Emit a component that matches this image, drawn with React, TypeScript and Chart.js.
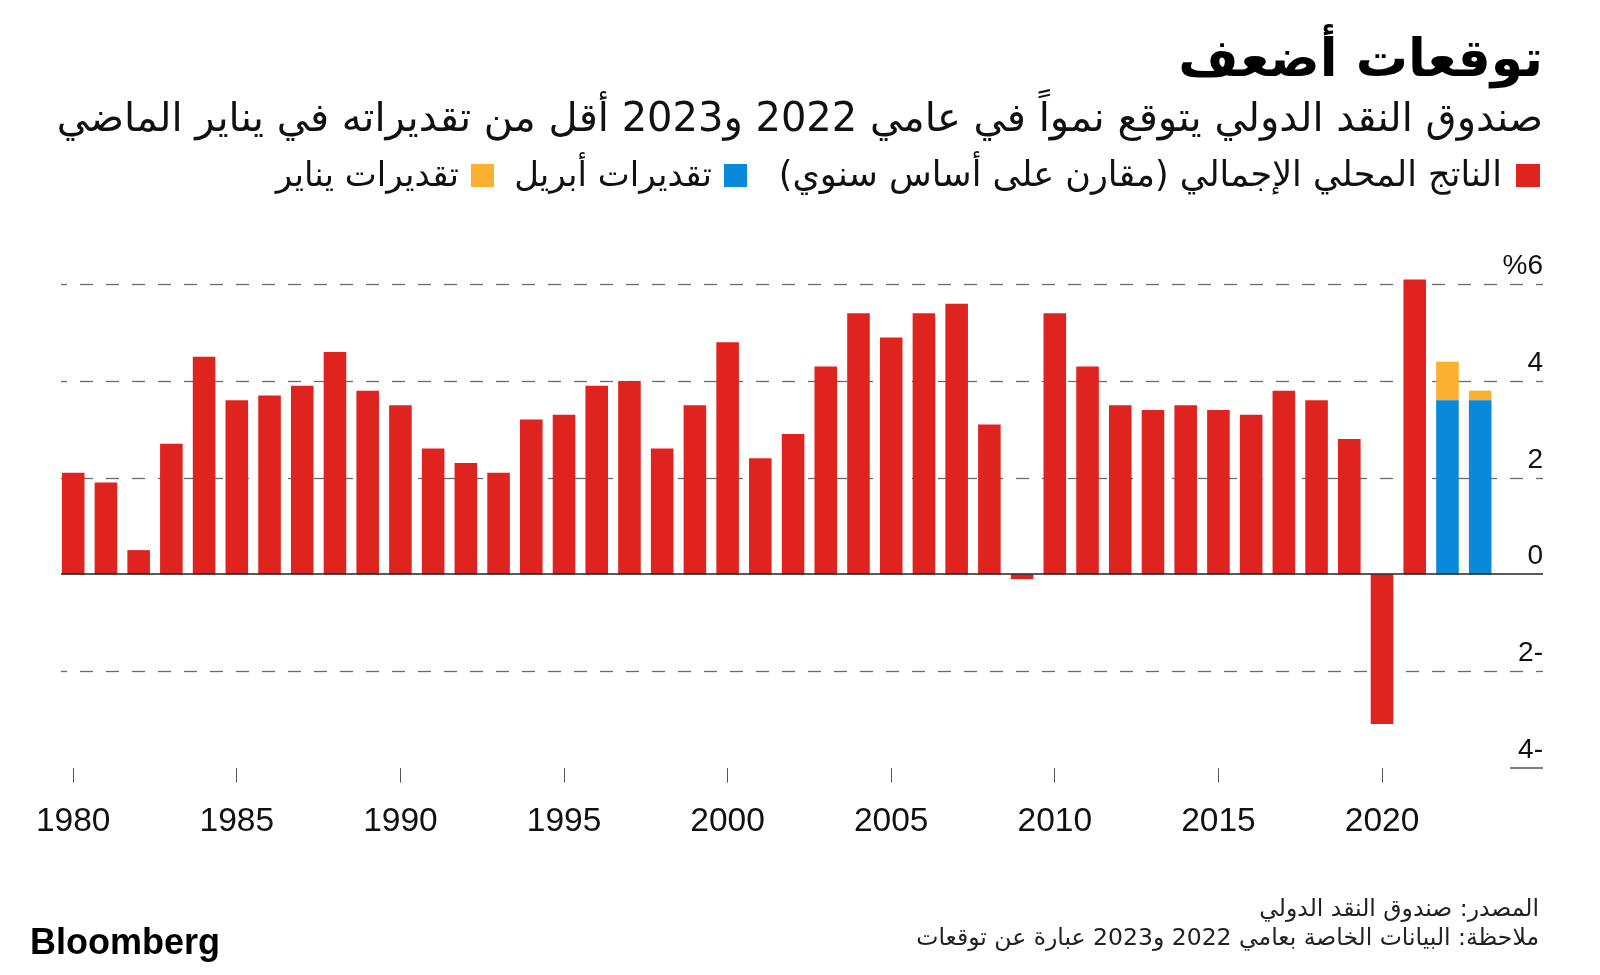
import React, { useEffect, useRef } from "react";
import { Chart, registerables } from "chart.js";

Chart.register(...registerables);

// ---------- data ----------
const YEARS = [
  1980, 1981, 1982, 1983, 1984, 1985, 1986, 1987, 1988, 1989,
  1990, 1991, 1992, 1993, 1994, 1995, 1996, 1997, 1998, 1999,
  2000, 2001, 2002, 2003, 2004, 2005, 2006, 2007, 2008, 2009,
  2010, 2011, 2012, 2013, 2014, 2015, 2016, 2017, 2018, 2019,
  2020, 2021,
];
const GDP = [
  2.1, 1.9, 0.5, 2.7, 4.5, 3.6, 3.7, 3.9, 4.6, 3.8,
  3.5, 2.6, 2.3, 2.1, 3.2, 3.3, 3.9, 4.0, 2.6, 3.5,
  4.8, 2.4, 2.9, 4.3, 5.4, 4.9, 5.4, 5.6, 3.1, -0.1,
  5.4, 4.3, 3.5, 3.4, 3.5, 3.4, 3.3, 3.8, 3.6, 2.8,
  -3.1, 6.1,
];
const FORECAST_YEARS = [2022, 2023];
const APRIL = [3.6, 3.6];
const JANUARY = [4.4, 3.8];

const X_TICKS = [1980, 1985, 1990, 1995, 2000, 2005, 2010, 2015, 2020];
const Y_TICKS = [6, 4, 2, 0, -2, -4];
const Y_TICK_LABELS = ["%6", "4", "2", "0", "2-", "4-"];

const TITLE = "توقعات أضعف";
const SUBTITLE =
  "صندوق النقد الدولي يتوقع نمواً في عامي 2022 و2023 أقل من تقديراته في يناير الماضي";
const LEGEND_GDP = "الناتج المحلي الإجمالي (مقارن على أساس سنوي)";
const LEGEND_APRIL = "تقديرات أبريل";
const LEGEND_JANUARY = "تقديرات يناير";
const SOURCE = "المصدر: صندوق النقد الدولي";
const NOTE = "ملاحظة: البيانات الخاصة بعامي 2022 و2023 عبارة عن توقعات";

const RED = "#DF231E";
const BLUE = "#0A89DA";
const YELLOW = "#FBB12F";

const ARABIC_FONT = '"DejaVu Sans", sans-serif';
const NUM_FONT = '"Liberation Sans", Arial, sans-serif';

const Y_MIN = -4;
const Y_MAX = 6;

const bbgPlugin = {
  id: "bbgGrid",
  beforeDatasetsDraw(chart: any) {
    const { ctx, chartArea } = chart;
    const ys = chart.scales.y;
    ctx.save();
    ctx.strokeStyle = "#6a6a6a";
    ctx.lineWidth = 1.3;
    ctx.setLineDash([13, 13]);
    ctx.lineDashOffset = 6;
    for (const v of Y_TICKS) {
      if (v === 0 || v === Y_MIN) continue;
      const py = Math.round(ys.getPixelForValue(v)) + 0.5;
      ctx.beginPath();
      ctx.moveTo(chartArea.right, py);
      ctx.lineTo(chartArea.left, py);
      ctx.stroke();
    }
    ctx.restore();
  },
  afterDatasetsDraw(chart: any) {
    const { ctx, chartArea } = chart;
    const ys = chart.scales.y;
    ctx.save();
    // zero line
    const z = Math.round(ys.getPixelForValue(0));
    ctx.strokeStyle = "#222";
    ctx.lineWidth = 1.6;
    ctx.beginPath();
    ctx.moveTo(chartArea.left, z);
    ctx.lineTo(chartArea.right, z);
    ctx.stroke();
    // short line under bottom label
    const b = Math.round(ys.getPixelForValue(Y_MIN));
    ctx.strokeStyle = "#555";
    ctx.lineWidth = 1.5;
    ctx.beginPath();
    ctx.moveTo(chartArea.right - 33, b);
    ctx.lineTo(chartArea.right, b);
    ctx.stroke();
    // y tick labels
    ctx.fillStyle = "#111";
    ctx.font = `28px ${NUM_FONT}`;
    ctx.textAlign = "right";
    ctx.textBaseline = "alphabetic";
    Y_TICKS.forEach((v, i) => {
      const py = ys.getPixelForValue(v);
      ctx.fillText(Y_TICK_LABELS[i], chartArea.right, py - 10);
    });
    ctx.restore();
  },
};

function GdpChart() {
  const ref = useRef<HTMLCanvasElement | null>(null);
  useEffect(() => {
    if (!ref.current) return;
    const chart = new Chart(ref.current, {
      type: "bar",
      data: {
        datasets: [
          {
            label: LEGEND_GDP,
            data: YEARS.map((yr, i) => ({ x: yr, y: GDP[i] })),
            backgroundColor: RED,
            clip: false,
          } as any,
          {
            label: LEGEND_APRIL,
            data: FORECAST_YEARS.map((yr, i) => ({ x: yr, y: APRIL[i] })),
            backgroundColor: BLUE,
            clip: false,
          },
          {
            label: LEGEND_JANUARY,
            data: FORECAST_YEARS.map((yr, i) => ({ x: yr, y: JANUARY[i] - APRIL[i] })),
            backgroundColor: YELLOW,
            clip: false,
          },
        ],
      },
      options: {
        responsive: false,
        animation: false,
        events: [],
        layout: { padding: { left: 61, right: 57, top: 284.3, bottom: 127.4 } },
        datasets: { bar: { barPercentage: 0.69, categoryPercentage: 1, borderWidth: 0 } },
        plugins: { legend: { display: false }, tooltip: { enabled: false }, title: { display: false } },
        scales: {
          x: {
            type: "linear",
            stacked: true,
            min: 1979.627,
            max: 2024.92,
            offset: false,
            afterFit: (s: any) => {
              s.height = 80;
            },
            afterBuildTicks: (s: any) => {
              s.ticks = X_TICKS.map((v) => ({ value: v }));
            },
            grid: {
              display: true,
              offset: false,
              drawOnChartArea: false,
              drawTicks: true,
              tickLength: 15,
              color: "#555",
              lineWidth: 1,
            },
            border: { display: false },
            ticks: {
              autoSkip: false,
              maxRotation: 0,
              padding: 19,
              color: "#111",
              font: { family: NUM_FONT, size: 33.5 },
              callback: (v: any) => String(v),
            },
          },
          y: {
            display: false,
            stacked: true,
            min: Y_MIN,
            max: Y_MAX,
          },
        },
      },
      plugins: [bbgPlugin],
    } as any);
    return () => chart.destroy();
  }, []);
  return (
    <canvas
      ref={ref}
      width={1600}
      height={975}
      style={{ position: "absolute", left: 0, top: 0, width: 1600, height: 975 }}
    />
  );
}

const textBase: React.CSSProperties = {
  position: "absolute",
  fontFamily: ARABIC_FONT,
  direction: "rtl",
  whiteSpace: "nowrap",
  lineHeight: 1,
  color: "#111",
};

function Swatch({ left, color }: { left: number; color: string }) {
  return (
    <div
      style={{ position: "absolute", left, top: 163.5, width: 23.5, height: 23.5, background: color }}
    />
  );
}

export default function App() {
  return (
    <div
      style={{
        position: "absolute",
        left: 0,
        top: 0,
        width: 1600,
        height: 975,
        background: "#fff",
        overflow: "hidden",
      }}
    >
      <GdpChart />
      <div style={{ ...textBase, right: 57, top: 32, fontSize: 52, fontWeight: 700, color: "#000" }}>
        {TITLE}
      </div>
      <div style={{ ...textBase, right: 57, top: 97, fontSize: 40 }}>{SUBTITLE}</div>

      <Swatch left={1516} color={RED} />
      <div style={{ ...textBase, right: 98, top: 157, fontSize: 35 }}>{LEGEND_GDP}</div>
      <Swatch left={723.5} color={BLUE} />
      <div style={{ ...textBase, right: 888, top: 157, fontSize: 34 }}>{LEGEND_APRIL}</div>
      <Swatch left={470.5} color={YELLOW} />
      <div style={{ ...textBase, right: 1141, top: 157, fontSize: 34 }}>{LEGEND_JANUARY}</div>

      <div style={{ ...textBase, right: 61, top: 897, fontSize: 23.5, color: "#222" }}>{SOURCE}</div>
      <div style={{ ...textBase, right: 61, top: 926, fontSize: 23.5, color: "#222" }}>{NOTE}</div>

      <div
        style={{
          position: "absolute",
          left: 30,
          top: 924,
          fontFamily: NUM_FONT,
          fontWeight: 700,
          fontSize: 36,
          letterSpacing: 0,
          lineHeight: 1,
          color: "#000",
        }}
      >
        Bloomberg
      </div>
    </div>
  );
}
